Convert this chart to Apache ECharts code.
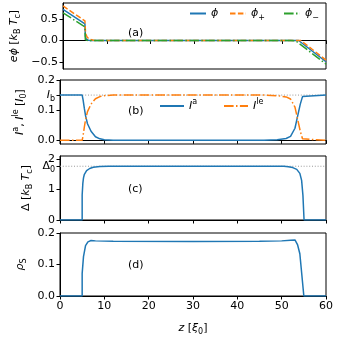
<!DOCTYPE html>
<html>
<head>
<meta charset="utf-8">
<script src="https://cdn.jsdelivr.net/npm/echarts@6/dist/echarts.min.js"></script>
<style>
  html, body { margin: 0; padding: 0; background: #fff; }
  #chart { width: 337px; height: 337px; }
</style>
</head>
<body>
<div id="chart"></div>
<script>
// z positions are in units of xi_0
const zTicks = [0, 10, 20, 30, 40, 50, 60];

// (a) potentials [k_B T_c]
const phi = [[0, 0.73], [5, 0.39], [5.1, 0.1], [5.3, 0.03], [5.8, 0.008], [6.5, 0], [53.75, 0], [60, -0.5]];
const phiPlus = [[0, 0.81], [5, 0.46], [5.15, 0.16], [5.5, 0.08], [6, 0.03], [7, 0.004], [8, 0], [54.25, 0], [60, -0.46]];
const phiMinus = [[0, 0.65], [5, 0.32], [5.1, 0.02], [5.3, -0.02], [5.8, -0.01], [6.5, 0], [52, 0], [53.1, -0.01], [60, -0.555]];

// (b) currents [I_0]
const Ib = 0.15;
const currentA = [[0, 0.15], [5, 0.15], [5.2, 0.135], [5.5, 0.105], [5.76, 0.082], [6.2, 0.055], [7, 0.03], [8, 0.012],
  [9, 0.005], [10, 0.002], [12, 0], [46, 0], [49, 0.002], [51, 0.006], [52, 0.013], [53, 0.04], [53.6, 0.08],
  [54.2, 0.12], [54.7, 0.145], [55, 0.15], [60, 0.15]];
const currentLe = [[0, 0], [5, 0], [5.2, 0.015], [5.5, 0.045], [5.76, 0.068], [6.2, 0.095], [7, 0.12], [8, 0.138],
  [9, 0.145], [10, 0.148], [12, 0.15], [46, 0.15], [49, 0.148], [51, 0.144], [52, 0.137], [53, 0.11], [53.6, 0.07],
  [54.2, 0.03], [54.7, 0.005], [55, 0], [60, 0]];

// (c) gap [k_B T_c]
const delta0 = 1.764;
const gap = [[0, 0], [5, 0], [5, 0.82], [5.15, 1.2], [5.3, 1.38], [5.5, 1.5], [6, 1.62], [6.7, 1.69], [7.5, 1.73],
  [9, 1.755], [11, 1.764], [50.5, 1.762], [51.5, 1.75], [52.5, 1.72], [53.4, 1.66], [54.1, 1.53], [54.5, 1.3],
  [54.8, 0.8], [55.05, 0], [60, 0]];

// (d) superfluid density
const rhoS = [[0, 0], [5, 0], [5, 0.072], [5.3, 0.125], [5.76, 0.16], [6.3, 0.172], [7, 0.176], [8, 0.175],
  [12, 0.174], [30, 0.173], [45, 0.174], [50, 0.175], [52, 0.177], [53, 0.178], [53.3, 0.176], [53.6, 0.162],
  [54.1, 0.134], [55, 0], [60, 0]];

const chart = echarts.init(document.getElementById('chart'));

const FONT = 'DejaVu Sans';
const blue = '#1f77b4', orange = '#ff7f0e', green = '#2ca02c';
const dashed = [5.5, 2.4];
const dashDot = [9.6, 2.4, 1.5, 2.4];

const rich = {
  r: { fontSize: 11, fontFamily: FONT, color: '#000', lineHeight: 16 },
  i: { fontSize: 11, fontFamily: FONT, fontStyle: 'italic', color: '#000', lineHeight: 16 },
  sub: { fontSize: 8, fontFamily: FONT, color: '#000', verticalAlign: 'bottom', lineHeight: 16 },
  sup: { fontSize: 8, fontFamily: FONT, color: '#000', verticalAlign: 'top', lineHeight: 16 }
};

const grids = [
  { left: 60, width: 266, top: 3, height: 66 },
  { left: 60, width: 266, top: 80, height: 64 },
  { left: 60, width: 266, top: 156, height: 64 },
  { left: 60, width: 266, top: 233, height: 63 }
].map(g => Object.assign(g, { show: true, borderColor: '#000', borderWidth: 1, backgroundColor: 'transparent' }));

function xAxis(i) {
  return {
    type: 'value', gridIndex: i, min: 0, max: 60, interval: 10,
    axisLine: { show: true, lineStyle: { color: '#000', width: 1 } },
    axisTick: { show: true, length: 3.5, lineStyle: { color: '#000' } },
    splitLine: { show: false },
    axisLabel: { show: i === 3, fontSize: 11, fontFamily: FONT, color: '#000', margin: 5 },
    name: i === 3 ? '{i|z} {r|[}{i|ξ}{sub|0}{r|]}' : '',
    nameLocation: 'middle', nameGap: 24,
    nameTextStyle: { rich: rich }
  };
}

function yAxis(i, min, max, ticks, fmt, name, gap) {
  return {
    type: 'value', gridIndex: i, min: min, max: max, position: 'left', offset: 0,
    axisLine: { show: true, lineStyle: { color: '#000', width: 1 } },
    axisTick: { show: true, length: 3.5, lineStyle: { color: '#000' }, customValues: ticks },
    splitLine: { show: false },
    axisLabel: {
      fontSize: 11, fontFamily: FONT, color: '#000', margin: 5, hideOverlap: false,
      customValues: ticks, formatter: fmt, rich: rich
    },
    name: name, nameLocation: 'middle', nameGap: gap, nameMoveOverlap: false,
    nameTextStyle: { rich: rich }
  };
}

const fmt1 = v => v.toFixed(1).replace('-', '\u2212');

function line(name, xi, data, color, type, width) {
  return {
    name: name, type: 'line', xAxisIndex: xi, yAxisIndex: xi, data: data,
    showSymbol: false, symbol: 'none', animation: false, z: 3,
    lineStyle: { color: color, width: width || 1.5, type: type || 'solid' },
    itemStyle: { color: color }
  };
}

const legendNames = {
  phi: '{i|ϕ}',
  phiPlus: '{i|ϕ}{sub|+}',
  phiMinus: '{i|ϕ}{sub|\u2212}',
  Ia: '{i|I}{sup|a}',
  Ile: '{i|I}{sup|le}'
};

function legend(name, left, top, w) {
  return {
    data: [name], left: left, top: top, itemWidth: w, itemHeight: 10, itemGap: 0, padding: 0,
    itemStyle: { opacity: 0 },
    formatter: n => legendNames[n], textStyle: { rich: rich }
  };
}

// extra left axis in panel (c) that only carries the Delta_0 tick
const delta0Axis = yAxis(2, 0, 2.1, [delta0], () => '{r|Δ}{sub|0}', '', 0);
delta0Axis.axisLine = { show: false };

chart.setOption({
  animation: false,
  grid: grids,
  xAxis: [0, 1, 2, 3].map(xAxis),
  yAxis: [
    yAxis(0, -0.67, 0.88, [-0.5, 0, 0.5], fmt1, '{i|eϕ} {r|[}{i|k}{sub|B} {i|T}{sub|c}{r|]}', 41),
    yAxis(1, -0.0122, 0.2, [0, 0.1, Ib, 0.2], v => v === Ib ? '{i|I}{sub|b}' : fmt1(v),
      '{i|I}{sup|a}{r|, }{i|I}{sup|le} {r|[}{i|I}{sub|0}{r|]}', 32),
    yAxis(2, 0, 2.1, [0, 1, 2], v => String(v),
      '{r|Δ [}{i|k}{sub|B} {i|T}{sub|c}{r|]}', 26),
    yAxis(3, 0, 0.2, [0, 0.1, 0.2], fmt1, '{i|ρ}{sub|S}', 32),
    delta0Axis
  ],
  legend: [
    legend('phi', 189, 8, 16),
    legend('phiPlus', 229, 8, 16),
    legend('phiMinus', 283, 8, 16),
    legend('Ia', 159, 98, 24),
    legend('Ile', 223, 98, 24)
  ],
  graphic: [
    { type: 'text', left: 128, top: 28, style: { text: '(a)', font: '11px "DejaVu Sans"', fill: '#000' } },
    { type: 'text', left: 128, top: 106, style: { text: '(b)', font: '11px "DejaVu Sans"', fill: '#000' } },
    { type: 'text', left: 128, top: 184, style: { text: '(c)', font: '11px "DejaVu Sans"', fill: '#000' } },
    { type: 'text', left: 128, top: 260, style: { text: '(d)', font: '11px "DejaVu Sans"', fill: '#000' } }
  ],
  series: [
    line('phi', 0, phi, blue),
    line('phiPlus', 0, phiPlus, orange, dashed),
    line('phiMinus', 0, phiMinus, green, dashDot),
    Object.assign(line('IbRef', 1, [[0, Ib], [60, Ib]], '#999', [1, 1.8], 1), { z: 1 }),
    line('Ia', 1, currentA, blue),
    line('Ile', 1, currentLe, orange, dashDot),
    Object.assign(line('deltaRef', 2, [[0, delta0], [60, delta0]], '#999', [1, 1.8], 1), { z: 1 }),
    line('gap', 2, gap, blue),
    line('rhoS', 3, rhoS, blue)
  ]
});
</script>
</body>
</html>
